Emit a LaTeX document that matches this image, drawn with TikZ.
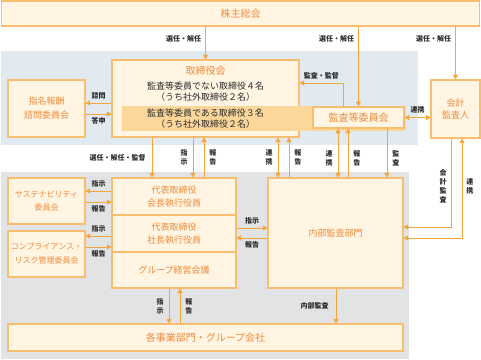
\documentclass[tikz,border=0pt]{standalone}
\usepackage{fontspec}
\setmainfont{Noto Sans CJK JP}
\usepackage{tikz}
\usetikzlibrary{arrows.meta, positioning}
\definecolor{govorange}{HTML}{F5A53A}
\definecolor{govline}{HTML}{F7BE70}
\definecolor{govcream}{HTML}{FFF5E2}
\definecolor{govband}{HTML}{FCD79A}
\definecolor{govtitle}{HTML}{F08A3A}
\definecolor{govblue}{HTML}{E1E9F1}
\definecolor{govgray}{HTML}{E1E3E4}
\definecolor{govtext}{HTML}{2B2B2B}

\begin{document}
\begin{tikzpicture}[x=1pt, y=-1pt,
   org/.style={draw=govline, fill=govcream, line width=1.1pt, align=center, inner sep=0pt,
               text=govtitle, font=\fontsize{9}{13}\selectfont},
   bodytext/.style={align=center, inner sep=0pt, text=govtext, font=\fontsize{9}{11}\selectfont},
   lbl/.style={font=\fontsize{7}{8}\selectfont\bfseries, text=govtext, inner sep=1pt, align=center},
   vlbl/.style={lbl, font=\fontsize{7}{9}\selectfont\bfseries},
   arr/.style={-{Triangle[length=4.5pt,width=5pt]}, draw=govorange, line width=0.9pt},
   arrs/.style={{Triangle[length=4.5pt,width=5pt]}-{Triangle[length=4.5pt,width=5pt]},
                draw=govorange, line width=0.9pt}]

  \useasboundingbox (0,0) rectangle (481,359);
  % areas
  \fill[govblue] (1,51) rectangle (418,145);
  \fill[govgray] (1,172) rectangle (409,359);

  \node[org, minimum width=478, minimum height=25, font=\fontsize{10}{12}\selectfont]
       (share) at (240.5,13.5) {株主総会};

  % board of directors
  \node[org, minimum width=187, minimum height=77] (board) at (205.5,98.5) {};
  \node[text=govtitle, inner sep=0pt, font=\fontsize{10}{12}\selectfont]
       (boardtitle) at (205.5,71) {取締役会};
  \node[bodytext] (boardin) at (205.5,91.5) {監査等委員でない取締役４名\\（うち社外取締役２名）};
  \fill[govband] (122,106) rectangle (406,131);
  \node[bodytext] (bandtext) at (205.5,118.5) {監査等委員である取締役３名\\（うち社外取締役２名）};
  \node[org, line width=1.6pt, minimum width=91, minimum height=21, font=\fontsize{10}{12}\selectfont]
       (audit) at (358.5,117.5) {監査等委員会};
  \node[org, minimum width=49, minimum height=58, font=\fontsize{9}{12}\selectfont]
       (acct) at (455.5,109) {会計\\監査人};
  \node[org, minimum width=77, minimum height=57, font=\fontsize{9}{14}\selectfont]
       (nomin) at (46.5,108.5) {指名報酬\\諮問委員会};

  % executive side
  \node[org, minimum width=77, minimum height=46, font=\fontsize{8}{13}\selectfont]
       (susta) at (46.5,201) {サステナビリティ\\委員会};
  \node[org, minimum width=77, minimum height=46, font=\fontsize{8}{14}\selectfont]
       (comp) at (46.5,254) {コンプライアンス・\\リスク管理委員会};
  \node[org, minimum width=124, minimum height=37] (kaicho) at (174,196.5) {代表取締役\\会長執行役員};
  \node[org, minimum width=124, minimum height=37] (shacho) at (174,233.5) {代表取締役\\社長執行役員};
  \node[org, minimum width=124, minimum height=36] (group) at (174,270) {グループ経営会議};
  \node[org, minimum width=135, minimum height=110] (naibu) at (335.5,233) {内部監査部門};
  \node[org, minimum width=395, minimum height=27, font=\fontsize{10}{12}\selectfont]
       (jigyo) at (205.5,337.5) {各事業部門・グループ会社};

  % shareholders
  \draw[arr] (board.north |- share.south) -- (board.north) node[pos=0.38, left=3pt, lbl]{選任・解任};
  \draw[arr] (audit.north |- share.south) -- (audit.north) node[pos=0.16, left=3pt, lbl]{選任・解任};
  \draw[arr] (acct.north |- share.south) -- (acct.north) node[pos=0.24, left=3pt, lbl]{選任・解任};

  \draw[arr] (board.west |- 0,103) -- (nomin.east |- 0,103) node[midway, above=2pt, lbl]{諮問};
  \draw[arr] (nomin.east |- 0,114) -- (board.west |- 0,114) node[midway, below=2pt, lbl]{答申};
  \draw[arr] (audit.north -| 343,0) |- (board.east |- 0,83) node[pos=0.75, above=2pt, lbl]{監査・監督};
  \draw[arrs] (audit.east) -- (acct.west |- audit.east) node[midway, above=3pt, lbl]{連携};

  % board to executives
  \draw[arr] (board.south -| 152,0) -- (kaicho.north -| 152,0) node[midway, left=5pt, lbl]{選任・解任・監督};
  \draw[arr] (board.south -| 193,0) -- (kaicho.north -| 193,0) node[midway, left=4pt, vlbl]{指\\示};
  \draw[arr] (kaicho.north -| 204,0) -- (board.south -| 204,0) node[midway, right=4pt, vlbl]{報\\告};
  \draw[arrs] (board.south -| 278,0) -- (naibu.north -| 278,0) node[midway, left=4pt, vlbl]{連\\携};
  \draw[arr] (naibu.north -| 289,0) -- (board.south -| 289,0) node[midway, right=4pt, vlbl]{報\\告};
  \draw[arrs] (audit.south -| 338,0) -- (naibu.north -| 338,0) node[pos=0.6, left=4pt, vlbl]{連\\携};
  \draw[arr] (naibu.north -| 348,0) -- (audit.south -| 348,0) node[pos=0.4, right=4pt, vlbl]{報\\告};
  \draw[arr] (audit.south -| 387,0) -- (naibu.north -| 387,0) node[pos=0.6, right=4pt, vlbl]{監\\査};

  % accounting auditor
  \draw[arr] (acct.south -| 451,0) |- (naibu.east |- 0,227) node[pos=0.27, left=3pt, vlbl]{会\\計\\監\\査};
  \draw[arrs] (naibu.east |- 0,238) -| (acct.south -| 462,0) node[pos=0.76, right=3pt, vlbl]{連\\携};

  % committees
  \draw[arr] (kaicho.west |- 0,191) -- (susta.east |- 0,191) node[midway, above=2pt, lbl]{指示};
  \draw[arr] (susta.east |- 0,202) -- (kaicho.west |- 0,202) node[midway, below=2pt, lbl]{報告};
  \draw[arr] (shacho.west |- 0,236) -- (comp.east |- 0,236) node[midway, above=2pt, lbl]{指示};
  \draw[arr] (comp.east |- 0,247) -- (shacho.west |- 0,247) node[midway, below=2pt, lbl]{報告};

  \draw[arr] (shacho.east |- 0,228) -- (naibu.west |- 0,228) node[midway, above=2pt, lbl]{指示};
  \draw[arr] (naibu.west |- 0,238) -- (shacho.east |- 0,238) node[midway, below=2pt, lbl]{報告};

  % business units
  \draw[arr] (group.south -| 169,0) -- (jigyo.north -| 169,0) node[midway, left=4pt, vlbl]{指\\示};
  \draw[arr] (jigyo.north -| 180,0) -- (group.south -| 180,0) node[midway, right=4pt, vlbl]{報\\告};
  \draw[arr] (naibu.south -| 336,0) -- (jigyo.north -| 336,0) node[midway, left=6pt, lbl]{内部監査};
\end{tikzpicture}
\end{document}
